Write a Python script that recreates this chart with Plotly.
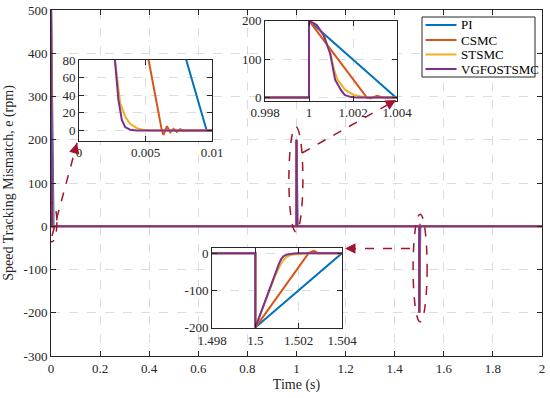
import plotly.graph_objects as go

# ---------------- data ----------------
series_names = ["PI", "CSMC", "STSMC", "VGFOSTSMC"]
colors = ["#0072BD", "#D95319", "#EDB120", "#7E2F8E"]

# start-up transient (t ~ 0 s)
pi_t0 = [0.0, 0.0096, 0.0100]
pi_v0 = [500, 0, 0]
csmc_t0 = [0.0, 0.00623, 0.00636, 0.00661, 0.00686, 0.00711, 0.00736, 0.00761, 0.00786, 0.0081, 0.0100]
csmc_v0 = [500, 0, -5, 5, -2, 2, -1.5, 1.5, -0.5, 0, 0]
sts_t0 = [0.0, 0.0021, 0.0027, 0.0031, 0.00347, 0.00384, 0.00435, 0.00485, 0.0054, 0.0100]
sts_v0 = [500, 200, 80, 31, 16, 7.7, 2.7, 0.8, 0, 0]
vgf_t0 = [0.0, 0.0021, 0.0027, 0.00296, 0.00322, 0.00347, 0.00384, 0.00435, 0.0100]
vgf_v0 = [500, 200, 80, 35, 12, 4, 1, 0, 0]

# step at t = 1 s
pi_t1 = [1.0, 1.0, 1.00395]
pi_v1 = [0, 200, 0]
csmc_t1 = [1.0, 1.0, 1.00263, 1.0028, 1.00309, 1.0034, 1.0036]
csmc_v1 = [0, 200, 0, -2, 5, 0, 0]
sts_t1 = [1.0, 1.0, 1.00035, 1.00066, 1.00096, 1.00115, 1.00130, 1.00165, 1.00203, 1.00241, 1.00263]
sts_v1 = [0, 200, 189, 163, 118, 70, 46, 20, 7, 2, 0]
vgf_t1 = [1.0, 1.0, 1.00035, 1.00066, 1.00096, 1.00119, 1.00145, 1.00162, 1.00187, 1.00218]
vgf_v1 = [0, 200, 189, 163, 115, 46, 20, 7, 2, 0]

# step at t = 1.5 s
pi_t2 = [1.5, 1.5, 1.504]
pi_v2 = [0, -200, 0]
csmc_t2 = [1.5, 1.5, 1.50246, 1.50258, 1.50269, 1.5028, 1.5029]
csmc_v2 = [0, -200, 0, 3, 6, 3, 0]
sts_t2 = [1.5, 1.5, 1.50092, 1.50115, 1.50131, 1.50146, 1.50169, 1.5020, 1.5024]
sts_v2 = [0, -200, -60, -32, -18, -9, -4, -1.5, 0]
vgf_t2 = [1.5, 1.5, 1.50108, 1.50120, 1.50131, 1.50146, 1.50169, 1.50192]
vgf_v2 = [0, -200, -30, -15, -8, -4, -1.5, 0]

t_end = [2.0]
v_end = [0]

series_t = [pi_t0 + pi_t1 + pi_t2 + t_end,
            csmc_t0 + csmc_t1 + csmc_t2 + t_end,
            sts_t0 + sts_t1 + sts_t2 + t_end,
            vgf_t0 + vgf_t1 + vgf_t2 + t_end]
series_v = [pi_v0 + pi_v1 + pi_v2 + v_end,
            csmc_v0 + csmc_v1 + csmc_v2 + v_end,
            sts_v0 + sts_v1 + sts_v2 + v_end,
            vgf_v0 + vgf_v1 + vgf_v2 + v_end]

main_xticks = [0, 0.2, 0.4, 0.6, 0.8, 1, 1.2, 1.4, 1.6, 1.8, 2]
main_xlabels = ["0", "0.2", "0.4", "0.6", "0.8", "1", "1.2", "1.4", "1.6", "1.8", "2"]
main_yticks = [-300, -200, -100, 0, 100, 200, 300, 400, 500]
main_ylabels = ["-300", "-200", "-100", "0", "100", "200", "300", "400", "500"]

in1_xticks = [0, 0.005, 0.01]
in1_xlabels = ["0", "0.005", "0.01"]
in1_yticks = [0, 20, 40, 60, 80]
in1_ylabels = ["0", "20", "40", "60", "80"]
in2_xticks = [0.998, 1.0, 1.002, 1.004]
in2_xlabels = ["0.998", "1", "1.002", "1.004"]
in2_yticks = [0, 100, 200]
in2_ylabels = ["0", "100", "200"]
in3_xticks = [1.498, 1.5, 1.502, 1.504]
in3_xlabels = ["1.498", "1.5", "1.502", "1.504"]
in3_yticks = [-200, -100, 0]
in3_ylabels = ["-200", "-100", "0"]

# ---------------- figure ----------------
FONT = "Liberation Serif, Times New Roman, serif"
AX = "#262626"
GRID = "#dcdcdc"
ACC = "#A2142F"

fig = go.Figure()

axes_pairs = [("x", "y"), ("x2", "y2"), ("x3", "y3"), ("x4", "y4")]
for k, (xa, ya) in enumerate(axes_pairs):
    for i in range(4):
        fig.add_trace(go.Scatter(
            x=series_t[i], y=series_v[i], mode="lines",
            name=series_names[i],
            line=dict(color=colors[i], width=2.2 if k == 0 else 2),
            showlegend=False, xaxis=xa, yaxis=ya,
            hoverinfo="skip"))

def axis_style(**kw):
    d = dict(showline=True, linecolor=AX, linewidth=1, mirror="ticks",
             ticks="inside", ticklen=5, tickcolor=AX, tickwidth=1,
             showgrid=True, gridcolor=GRID, griddash="dash", gridwidth=1,
             zeroline=False, automargin=False,
             tickfont=dict(family=FONT, size=13, color=AX))
    d.update(kw)
    return d

W, H = 550, 398
L, R, T, B = 51, 8, 10, 42
pw, ph = W - L - R, H - T - B

def dx(px0, px1):
    return [(px0 - L) / pw, (px1 - L) / pw]

def dy(py_top, py_bot):
    return [(H - B - py_bot) / ph, (H - B - py_top) / ph]

def px2px(px):  # screen px -> paper x
    return (px - L) / pw

def py2py(py):  # screen px -> paper y
    return (H - B - py) / ph

fig.update_layout(
    width=W, height=H, autosize=False,
    margin=dict(l=L, r=R, t=T, b=B, autoexpand=False),
    paper_bgcolor="white", plot_bgcolor="white",
    font=dict(family=FONT, size=13, color=AX),
    showlegend=False,
    xaxis=axis_style(range=[0, 2], tickvals=main_xticks, ticktext=main_xlabels,
                     title=dict(text="Time (s)", font=dict(family=FONT, size=14, color=AX), standoff=4)),
    yaxis=axis_style(range=[-300, 500], tickvals=main_yticks, ticktext=main_ylabels,
                     title=dict(text="Speed Tracking Mismatch, e (rpm)", font=dict(family=FONT, size=14, color=AX), standoff=6)),
    xaxis2=axis_style(domain=dx(79, 212), anchor="y2", range=[0, 0.01],
                      tickvals=in1_xticks, ticktext=in1_xlabels),
    yaxis2=axis_style(domain=dy(60, 140.7), anchor="x2", range=[-11.5, 80],
                      tickvals=in1_yticks, ticktext=in1_ylabels),
    xaxis3=axis_style(domain=dx(265, 397), anchor="y3", range=[0.998, 1.004],
                      tickvals=in2_xticks, ticktext=in2_xlabels),
    yaxis3=axis_style(domain=dy(20.7, 100.7), anchor="x3", range=[-8, 200],
                      tickvals=in2_yticks, ticktext=in2_ylabels),
    xaxis4=axis_style(domain=dx(212, 342), anchor="y4", range=[1.498, 1.504],
                      tickvals=in3_xticks, ticktext=in3_xlabels),
    yaxis4=axis_style(domain=dy(248.3, 328.3), anchor="x4", range=[-202, 13],
                      tickvals=in3_yticks, ticktext=in3_ylabels),
)

# ellipses marking the zoomed events (main-axes data coordinates)
ellipses = [(-0.016, 0.024, -36, 54), (0.969, 1.026, -13, 230), (1.475, 1.532, -221, 28)]
for x0, x1, y0, y1 in ellipses:
    fig.add_shape(type="circle", xref="x", yref="y", x0=x0, x1=x1, y0=y0, y1=y1,
                  line=dict(color=ACC, width=1.5, dash="dash"), layer="above")

def px2x(px):
    return (px - L) / pw * 2.0

def px2y(py):
    return (H - B - py) / ph * 800 - 300

arrows = [((52, 236), (77, 143)), ((302, 153), (396, 100)), ((410, 248.5), (345, 248.5))]
for (tx, ty), (hx, hy) in arrows:
    fig.add_shape(type="line", xref="x", yref="y",
                  x0=px2x(tx), y0=px2y(ty), x1=px2x(hx), y1=px2y(hy),
                  line=dict(color=ACC, width=1.5, dash="dash"), layer="above")
    ddx, ddy = hx - tx, hy - ty
    n = (ddx ** 2 + ddy ** 2) ** 0.5
    fig.add_annotation(x=px2x(hx), y=px2y(hy), xref="x", yref="y", text="",
                       showarrow=True, arrowhead=2, arrowsize=1.4, arrowwidth=1.5,
                       arrowcolor=ACC, ax=-ddx / n * 10, ay=-ddy / n * 10)

# legend box (drawn manually to match the compact MATLAB legend)
fig.add_shape(type="rect", xref="paper", yref="paper",
              x0=px2px(422), x1=px2px(535), y0=py2py(77), y1=py2py(17),
              fillcolor="white", line=dict(color=AX, width=1), layer="above")
leg_rows = [25, 40, 54.5, 69]
for i, yy in enumerate(leg_rows):
    fig.add_shape(type="line", xref="paper", yref="paper",
                  x0=px2px(425.5), x1=px2px(456.5), y0=py2py(yy), y1=py2py(yy),
                  line=dict(color=colors[i], width=2), layer="above")
    fig.add_annotation(x=px2px(459), y=py2py(yy), xref="paper", yref="paper",
                       text=series_names[i], showarrow=False, xanchor="left", yanchor="middle",
                       font=dict(family=FONT, size=13, color="#000000"))

fig.write_html("out.html",
               config={"responsive": False, "displayModeBar": False},
               post_script="document.body.style.margin='0px';document.body.style.overflow='hidden';")
